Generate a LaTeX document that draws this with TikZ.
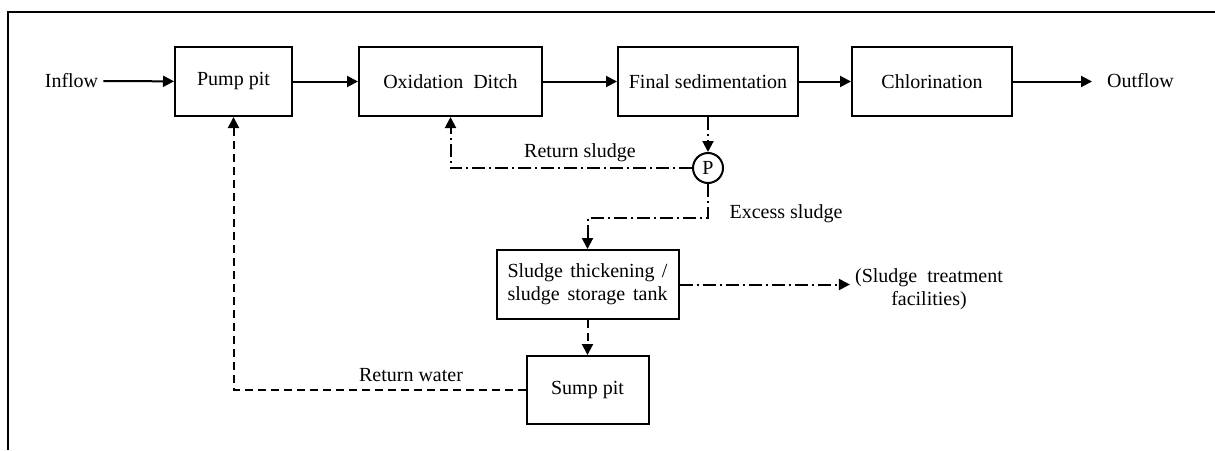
\documentclass[tikz,border=0pt]{standalone}
\usepackage{fontspec}
\setmainfont{Liberation Serif}
\usetikzlibrary{arrows.meta,calc}
\begin{document}
\begin{tikzpicture}[x=1pt,y=-1pt,
  font=\fontsize{20}{24}\selectfont,
  box/.style={draw,line width=2pt,rectangle,inner sep=0pt,minimum height=69pt},
  conn/.style={line width=2pt},
  arr/.style={-{Triangle[length=11pt,width=11pt]}},
  dsh/.style={dash pattern=on 8pt off 5pt},
  dshdot/.style={dash pattern=on 13pt off 4pt on 2pt off 4pt},
  lbl/.style={inner sep=0pt}]
\useasboundingbox (0,0) rectangle (1215,450);
\draw[line width=1.8pt] (8,450) -- (8,12) -- (1215,12);

\node[box,minimum width=117pt] (pump) at (233.5,81.5) {Pump pit};
\node[box,minimum width=183pt] (ox) at (450.5,81.5) {Oxidation\ \ Ditch};
\node[box,minimum width=180pt] (fin) at (708,81.5) {Final sedimentation};
\node[box,minimum width=160pt] (chl) at (932,81.5) {Chlorination};
\node[inner sep=5pt] (inflow) at (71.5,81) {Inflow};
\node[lbl] (outflow) at (1140.5,81) {Outflow};
\coordinate (outend) at (1092,81.5);

\node[draw,circle,line width=2pt,minimum size=30pt,inner sep=0pt] (P) at (708,168) {P};

\node[box,minimum width=182pt,minimum height=69pt,align=center] (thick) at (587.5,284.5)
  {\hbox to 160pt{Sludge\hfill thickening\hfill /}\\[-1pt]\hbox to 160pt{sludge\hfill storage\hfill tank}};
\node[box,minimum width=122pt,minimum height=68pt] (sump) at (587.5,390) {Sump pit};
\node[align=center,inner sep=5pt] (treat) at (929,289.5) {(Sludge\ \ treatment\\[-1pt]facilities)};

\node[lbl] (lrs) at (580,153) {Return sludge};
\node[lbl] (les) at (786,214) {Excess sludge};
\node[lbl] (lrw) at (411,375) {Return water};

\draw[conn,arr] (inflow) -- (pump);
\draw[conn,arr] (pump) -- (ox);
\draw[conn,arr] (ox) -- (fin);
\draw[conn,arr] (fin) -- (chl);
\draw[conn,arr] (chl) -- (outend);

\draw[conn,arr,dshdot] (fin.south) -- (P.north);
\draw[conn,arr,dshdot] (P.west) -| (ox.south);
\draw[conn,arr,dshdot] (P.south) -- ++(0,34) -| (thick.north);
\draw[conn,arr,dshdot] (thick.east) -- (thick.east -| treat.west);
\draw[conn,arr,dsh] (thick.south) -- (sump.north);
\draw[conn,arr,dsh] (sump.west) -| (pump.south);
\end{tikzpicture}
\end{document}
